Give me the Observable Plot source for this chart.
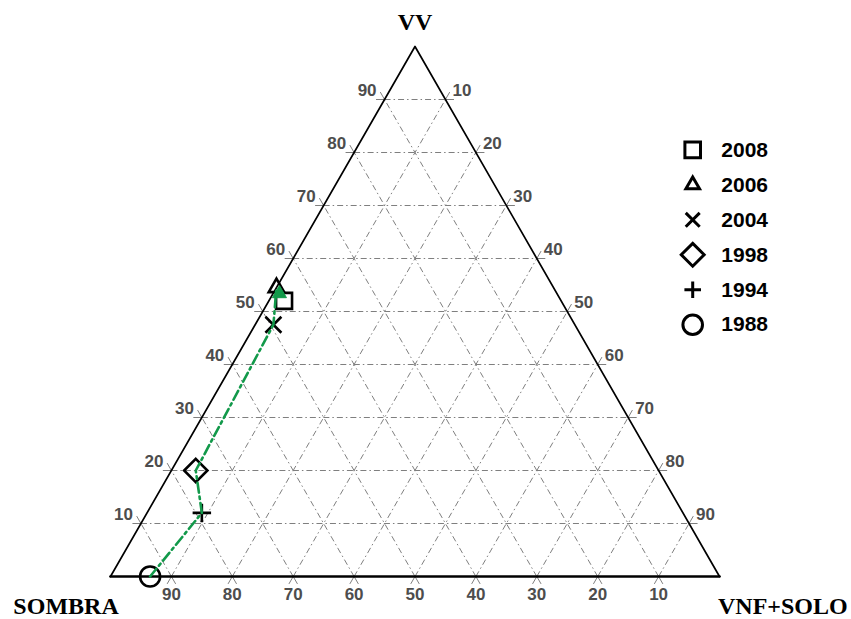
<!DOCTYPE html>
<html><head><meta charset="utf-8">
<script src="https://cdn.jsdelivr.net/npm/d3@7"></script>
<script src="https://cdn.jsdelivr.net/npm/@observablehq/plot@0.6"></script>
<style>body{margin:0;background:#fff} #chart{width:851px;height:619px}</style>
</head><body><div id="chart"></div>
<script>
// ---- data (percent composition) ----
const years  = [1988, 1994, 1998, 2004, 2006, 2008];
const sombra = [93.5, 79,   76,   49.5, 45.5, 45.5];
const vv     = [0,    12,   20,   47.5, 54.5, 52];
const vnf    = [6.5,  9,    4,    3,    0,    2.5];
const gridTicks = [10, 20, 30, 40, 50, 60, 70, 80, 90];
const vertexNames = ["SOMBRA", "VV", "VNF+SOLO"];
const legendYears = [2008, 2006, 2004, 1998, 1994, 1988];

// ---- styles ----
const symbolOf = {1988: "circle", 1994: "plus", 1998: "diamond2", 2004: "times", 2006: "triangle2", 2008: "square"};
const sizeOf   = {1988: 10, 1994: 6, 1998: 10.5, 2004: 7.3, 2006: 7.4, 2008: 9};
const legendSizeOf = {1988: 9.8, 1994: 5.4, 1998: 10.3, 2004: 6.4, 2006: 6.5, 2008: 8.8};
const green = "#12994a";
const gridColor = "#7f7f7f";
const tickColor = "#4d4d4d";

// ternary -> cartesian (data units)
const tx = (s, v, n) => n + v / 2;
const ty = (s, v, n) => v;

const points = years.map((y, i) => ({year: y, x: tx(sombra[i], vv[i], vnf[i]), y: ty(sombra[i], vv[i], vnf[i])}));

// grid lines
const grid = [];
for (const k of gridTicks) {
  grid.push({x1: tx(100 - k, k, 0), y1: ty(100 - k, k, 0), x2: tx(0, k, 100 - k), y2: ty(0, k, 100 - k)});
  grid.push({x1: tx(k, 0, 100 - k), y1: ty(k, 0, 100 - k), x2: tx(k, 100 - k, 0), y2: ty(k, 100 - k, 0)});
  grid.push({x1: tx(100 - k, 0, k), y1: ty(100 - k, 0, k), x2: tx(0, 100 - k, k), y2: ty(0, 100 - k, k)});
}
// small ticks outside the edges
const d = 1.4;
const ticks = [];
for (const k of gridTicks) {
  ticks.push({x1: tx(100-k,k,0), y1: ty(100-k,k,0), x2: tx(100-k+d,k,-d), y2: ty(100-k+d,k,-d)});
  ticks.push({x1: tx(100-k,k,0), y1: ty(100-k,k,0), x2: tx(100-k,k+d,-d), y2: ty(100-k,k+d,-d)});
  ticks.push({x1: tx(0,100-k,k), y1: ty(0,100-k,k), x2: tx(-d,100-k,k+d), y2: ty(-d,100-k,k+d)});
  ticks.push({x1: tx(0,100-k,k), y1: ty(0,100-k,k), x2: tx(-d,100-k+d,k), y2: ty(-d,100-k+d,k)});
  ticks.push({x1: tx(k,0,100-k), y1: ty(k,0,100-k), x2: tx(k,-d,100-k+d), y2: ty(k,-d,100-k+d)});
  ticks.push({x1: tx(k,0,100-k), y1: ty(k,0,100-k), x2: tx(k+d,-d,100-k), y2: ty(k+d,-d,100-k)});
}
const leftLabels   = gridTicks.map(k => ({x: tx(100-k,k,0), y: ty(100-k,k,0), t: String(k)}));
const rightLabels  = gridTicks.map(k => ({x: tx(0,100-k,k), y: ty(0,100-k,k), t: String(k)}));
const bottomLabels = gridTicks.map(k => ({x: tx(k,0,100-k), y: ty(k,0,100-k), t: String(k)}));

const vS = [100, 0, 0], vV = [0, 100, 0], vN = [0, 0, 100];
const corners = [
  {x: tx(...vS), y: ty(...vS)}, {x: tx(...vV), y: ty(...vV)}, {x: tx(...vN), y: ty(...vN)}
];

// layout (data units) for vertex labels and legend
const vertexPos = [{x: -7.3, y: -5.7}, {x: 50, y: 104.6}, {x: 110.4, y: -5.7}];
const legendX = 95.6, legendTextX = 100.3, legendTop = 80.5, legendStep = 6.6;
const legend = legendYears.map((y, i) => ({year: y, x: legendX, tx: legendTextX, y: legendTop - i * legendStep}));

const path = points.filter(p => p.year <= 2006);
const last = path[path.length - 1];

const marks = [
  Plot.link(grid, {x1: "x1", y1: "y1", x2: "x2", y2: "y2", stroke: gridColor, strokeWidth: 1, strokeDasharray: "6,3,1.5,3"}),
  Plot.link(ticks, {x1: "x1", y1: "y1", x2: "x2", y2: "y2", stroke: gridColor, strokeWidth: 1}),
  Plot.line([corners[0], corners[1], corners[2]], {x: "x", y: "y", stroke: "black", strokeWidth: 1.7}),
  Plot.line([corners[2], corners[0]], {x: "x", y: "y", stroke: "black", strokeWidth: 2.7}),
  Plot.text(leftLabels, {x: "x", y: "y", text: "t", dx: -8, dy: -9, textAnchor: "end", fill: tickColor, fontSize: 17, fontWeight: "bold"}),
  Plot.text(rightLabels, {x: "x", y: "y", text: "t", dx: 7, dy: -9, textAnchor: "start", fill: tickColor, fontSize: 17, fontWeight: "bold"}),
  Plot.text(bottomLabels, {x: "x", y: "y", text: "t", dy: 18, textAnchor: "middle", fill: tickColor, fontSize: 17, fontWeight: "bold"}),
  Plot.text(vertexNames.map((n, i) => ({n, ...vertexPos[i]})), {x: "x", y: "y", text: "n", textAnchor: "middle", fontFamily: "Liberation Serif, DejaVu Serif, serif", fontWeight: "bold", fontSize: 24, fill: "black"})
];
for (const p of points) {
  marks.push(Plot.dot([p], {x: "x", y: "y", symbol: () => symbolOf[p.year], r: sizeOf[p.year], stroke: "black", fill: "none", strokeWidth: 2.6}));
}
marks.push(
  Plot.line(path, {x: "x", y: "y", stroke: green, strokeWidth: 2.6, strokeDasharray: "10,4,2.5,4"}),
  Plot.dot([last], {x: "x", y: "y", symbol: "triangle", r: 5.2, fill: green, stroke: green, strokeWidth: 1, dx: 3, dy: 6})
);
for (const l of legend) {
  marks.push(Plot.dot([l], {x: "x", y: "y", symbol: () => symbolOf[l.year], r: legendSizeOf[l.year], stroke: "black", fill: "none", strokeWidth: 3}));
}
marks.push(Plot.text(legend, {x: "tx", y: "y", text: d => String(d.year), textAnchor: "start", fontSize: 21, fontWeight: "bold", fill: "black"}));

const chart = Plot.plot({
  width: 851, height: 619, margin: 0,
  x: {domain: [0, 100], range: [110, 719], axis: null},
  y: {domain: [0, 100], range: [576, 46], axis: null},
  symbol: {type: "identity"},
  style: {fontFamily: "Liberation Sans, Arial, sans-serif", background: "white"},
  marks
});
document.getElementById("chart").append(chart);
</script></body></html>
